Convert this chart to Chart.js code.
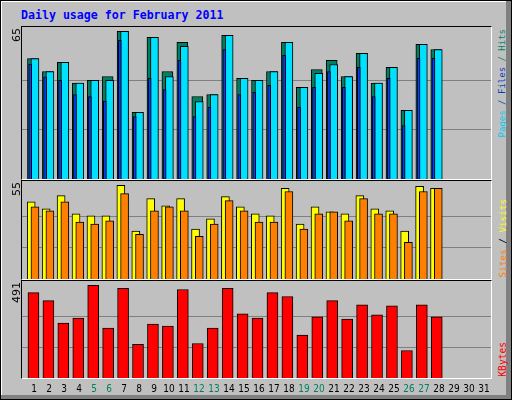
<!DOCTYPE html>
<html><head><meta charset="utf-8">
<script src="https://cdn.jsdelivr.net/npm/chart.js@4"></script>
<style>
html,body{margin:0;padding:0;background:#fff}
#frame{position:absolute;left:0;top:0;width:510px;height:398px;border:1px solid #000;background:#c0c0c0;overflow:hidden}
#shadeR{position:absolute;right:0;top:0;width:5px;height:100%;background:#808080}
#shadeB{position:absolute;left:0;bottom:0;width:100%;height:4px;background:#808080}
#hiL{position:absolute;left:0;top:0;width:1px;height:100%;background:#fff}
#hiT{position:absolute;left:0;top:0;width:100%;height:1px;background:#fff}
.panel{position:absolute;left:20px;width:471px;box-sizing:border-box;border-top:1px solid #000;border-left:1px solid #000;border-right:1px solid #fff;border-bottom:1px solid #fff}
.panel canvas{position:absolute;left:0;top:0}
.vt{position:absolute;writing-mode:vertical-rl;transform:rotate(180deg);white-space:nowrap;line-height:11px}
#title{position:absolute;left:20px;top:7px;font:bold 11.6px "DejaVu Sans Mono",monospace;color:#0000ff;white-space:nowrap}
.xl{position:absolute;top:382px;width:20px;text-align:center;font:10px "DejaVu Sans Condensed","DejaVu Sans",sans-serif;color:#000}
</style></head><body>
<div id="frame">
<div id="hiL"></div><div id="hiT"></div><div id="shadeR"></div><div id="shadeB"></div>
<div id="title">Daily usage for February 2011</div>
<div class="panel" id="p1" style="top:25px;height:154px"><canvas id="c1"></canvas></div>
<div class="panel" id="p2" style="top:179px;height:100px"><canvas id="c2"></canvas></div>
<div class="panel" id="p3" style="top:279px;height:99px"><canvas id="c3"></canvas></div>
<div class="vt" style="left:9px;top:27px;font:11px 'DejaVu Sans',sans-serif">65</div>
<div class="vt" style="left:9px;top:181px;font:11px 'DejaVu Sans',sans-serif">55</div>
<div class="vt" style="left:9px;top:281px;font:11px 'DejaVu Sans',sans-serif">491</div>
<div class="vt" style="left:496px;bottom:262px;font:9px 'DejaVu Sans Mono',monospace"><span style="color:#00c8f0">Pages</span><span style="color:#0040c0"> / Files</span><span style="color:#008060"> / Hits</span></div>
<div class="vt" style="left:496px;bottom:122px;font:9.3px 'DejaVu Sans Mono',monospace"><span style="color:#ff8000">Sites</span><span style="color:#000"> / </span><span style="color:#ffff00">Visits</span></div>
<div class="vt" style="left:496px;bottom:22px;font:9.6px 'DejaVu Sans Mono',monospace;color:#ff0000">KBytes</div>
<div id="xlabels"></div>
</div>
<script>
const days=[1,2,3,4,5,6,7,8,9,10,11,12,13,14,15,16,17,18,19,20,21,22,23,24,25,26,27,28];
const dayLabels=["1","2","3","4","5","6","7","8","9","10","11","12","13","14","15","16","17","18","19","20","21","22","23","24","25","26","27","28","29","30","31"];
const weekendDays=[5,6,12,13,19,20,26,27];
const hits=[53,47.3,51.3,42.2,43.4,45.1,65,29.3,62.3,47.3,60.1,36.3,37.2,63.2,44.3,43.4,47.3,60.1,40.3,48.2,52.2,45.1,55.3,42.2,49.1,30.2,59.3,57];
const files=[53,47.3,51.3,42.2,43.4,43.4,65,29.3,62.3,45.1,58.4,34.1,37.2,63.2,44.3,43.4,47.3,60.1,40.3,46.5,50.4,45.1,55.3,42.2,49.1,30.2,59.3,57];
const pages=[50.6,45,43.4,37.2,36.3,34.3,61,27.5,44.3,39.4,52.2,27.5,31.5,57,37.2,38.1,41.2,54.4,31.5,40.3,47.3,40.3,49.1,36.3,44.3,23.5,53.1,53.1];
const visits=[45.4,41.2,49,38.3,37.1,37.1,55,28.1,47.2,43,47.2,29.3,35.3,48.4,42.4,38.3,37.1,53.2,32.3,42.4,39.5,38.3,49,41.2,40.1,28.1,54.4,53.2];
const sites=[42.4,40.1,45.4,33.5,32.3,34.1,50.2,26.3,40.1,42.4,40.1,25.1,32.3,46,40.1,33.5,33.5,51.4,29.3,38.3,39.5,34.1,47.2,38.3,38.3,21.5,51.4,53.2];
const kbytes=[453,410,291,318,491,264,475,178,286,275,469,183,264,475,340,318,453,432,227,324,410,313,388,335,383,146,388,324];
const maxHits=65,maxVisits=55,maxKB=491;

const XMIN=0.133,XMAX=31.53;
function pts(vals,off){return days.map((d,i)=>({x:d+off,y:vals[i]}));}
function ds(vals,off,w,color,order){return {data:pts(vals,off),backgroundColor:color,borderColor:'#000',borderWidth:1,barThickness:w,order:order,grouped:false,borderSkipped:'bottom'};}
function make(id,w,h,datasets,ymax,gridVals){
  const c=document.getElementById(id);c.style.width=w+'px';c.style.height=h+'px';
  new Chart(c,{type:'bar',data:{datasets},options:{responsive:false,animation:false,devicePixelRatio:1,
    layout:{padding:0},plugins:{legend:{display:false},tooltip:{enabled:false}},
    scales:{x:{type:'linear',min:XMIN,max:XMAX,display:false,offset:false},
      y:{min:0,max:ymax,display:true,border:{display:false},ticks:{display:false},
        grid:{color:'#808080',lineWidth:1,drawTicks:false,tickLength:0},
        afterBuildTicks:a=>{a.ticks=gridVals.map(v=>({value:v}));}}}}});
}
const W=469;
make('c1',W,152,[ds(hits,-0.133,11,'#008060',3),ds(files,0,8,'#00e0ff',2),ds(pages,-0.32,3,'#0040ff',1)],maxHits*151.7/147.4,[maxHits/3,maxHits*2/3]);
make('c2',W,98,[ds(visits,-0.25,8,'#ffff00',2),ds(sites,0,8,'#ff8000',1)],maxVisits*96.3/92,[maxVisits/3,maxVisits*2/3]);
make('c3',W,97,[ds(kbytes,-0.1,11,'#ff0000',1)],maxKB*95.3/91,[maxKB/3,maxKB*2/3]);

const xl=document.getElementById('xlabels');
dayLabels.forEach((t,i)=>{const s=document.createElement('div');s.className='xl';s.textContent=t;
  s.style.left=(33+15*i-10)+'px';if(weekendDays.includes(i+1))s.style.color='#008060';xl.appendChild(s);});
</script>
</body></html>
